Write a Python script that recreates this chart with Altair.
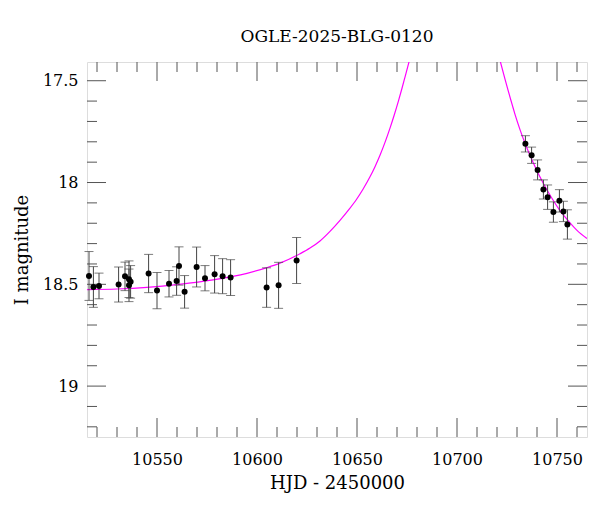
import altair as alt
import pandas as pd

hjd = [10516.0, 10518.2, 10521.0, 10530.8, 10534.0, 10536.0, 10536.8, 10536.0,
       10545.8, 10550.0, 10556.0, 10559.8, 10561.0, 10563.8, 10569.8, 10574.0,
       10578.8, 10582.8, 10586.8, 10604.8, 10610.8, 10619.8,
       10734.2, 10737.3, 10740.3, 10743.2, 10745.3, 10748.2, 10751.2, 10753.2, 10755.2]
mag = [18.459, 18.513, 18.508, 18.501, 18.461, 18.475, 18.488, 18.505,
       18.447, 18.531, 18.497, 18.484, 18.410, 18.537, 18.415, 18.470,
       18.451, 18.460, 18.467, 18.516, 18.505, 18.383,
       17.810, 17.866, 17.938, 18.034, 18.072, 18.145, 18.090, 18.142, 18.206]
err = [0.120, 0.100, 0.063, 0.086, 0.070, 0.090, 0.080, 0.080,
       0.094, 0.089, 0.065, 0.070, 0.094, 0.080, 0.098, 0.062,
       0.092, 0.086, 0.088, 0.097, 0.113, 0.113,
       0.040, 0.040, 0.049, 0.047, 0.060, 0.050, 0.055, 0.050, 0.072]

# ---- model curve ----
model_left_hjd = [10515, 10530, 10545, 10561, 10578, 10595, 10605, 10611.5, 10621.5,
                  10626.5, 10631.5, 10636.5, 10641.5, 10646, 10649.8, 10653, 10656.5,
                  10659, 10661.5, 10664, 10666.5, 10668.5, 10670.7, 10672.5, 10674,
                  10676.2, 10677.5]
model_left_mag = [18.526, 18.523, 18.515, 18.500, 18.478, 18.446, 18.418, 18.396, 18.350,
                  18.322, 18.287, 18.240, 18.186, 18.132, 18.082, 18.033, 17.972,
                  17.922, 17.866, 17.803, 17.733, 17.672, 17.600, 17.537, 17.482,
                  17.400, 17.348]
model_right_hjd = [10720, 10721.5, 10724, 10727.8, 10729, 10731.5, 10734.2, 10738,
                   10743.2, 10747, 10751.5, 10756, 10760, 10765]
model_right_mag = [17.342, 17.400, 17.492, 17.625, 17.665, 17.740, 17.812, 17.900,
                   18.005, 18.070, 18.138, 18.192, 18.235, 18.275]

# ---- tick positions ----
x_major = [10550, 10600, 10650, 10700, 10750]
x_minor = [10520, 10530, 10540, 10560, 10570, 10580, 10590, 10610, 10620, 10630,
           10640, 10660, 10670, 10680, 10690, 10710, 10720, 10730, 10740, 10760]
y_major = [17.5, 18.0, 18.5, 19.0]
y_minor = [17.6, 17.7, 17.8, 17.9, 18.1, 18.2, 18.3, 18.4, 18.6, 18.7, 18.8, 18.9,
           19.1, 19.2]

W, H = 500, 375
FONT = "DejaVu Serif"
TICK_C = "#555555"
MAJ, MIN = 19, 10

obs = pd.DataFrame({"hjd": hjd, "mag": mag, "err": err})
obs["lo"] = obs["mag"] - obs["err"]
obs["hi"] = obs["mag"] + obs["err"]

model = pd.DataFrame({
    "hjd": model_left_hjd + model_right_hjd,
    "mag": model_left_mag + model_right_mag,
    "seg": ["a"] * len(model_left_hjd) + ["b"] * len(model_right_hjd),
})

xs = alt.Scale(domain=[10515, 10765], nice=False, zero=False)
ys = alt.Scale(domain=[17.408, 19.25], reverse=True, nice=False, zero=False)

xaxis = alt.Axis(values=x_major, format="d", ticks=False, domain=False, grid=False,
                 labelFont=FONT, labelFontSize=16, labelColor="black", labelPadding=14,
                 title="HJD - 2450000", titleFont=FONT, titleFontSize=18,
                 titleFontWeight="normal", titleColor="black", titlePadding=7,
                 labelFlush=False)
yaxis = alt.Axis(values=y_major, format="~f", ticks=False, domain=False, grid=False,
                 labelFont=FONT, labelFontSize=16, labelColor="black", labelPadding=9,
                 title="I magnitude", titleFont=FONT, titleFontSize=18,
                 titleFontWeight="normal", titleColor="black", titlePadding=11,
                 labelFlush=False)


def X(field="hjd"):
    return alt.X(f"{field}:Q", scale=xs, axis=xaxis)


def Y(field="mag"):
    return alt.Y(f"{field}:Q", scale=ys, axis=yaxis)


curve = alt.Chart(model).mark_line(color="#ff00ff", strokeWidth=1.2, clip=True,
                                   interpolate="monotone").encode(
    x=X(), y=Y(), detail="seg:N")

bars = alt.Chart(obs).mark_rule(color="#444444", strokeWidth=1).encode(
    x=X(), y=Y("lo"), y2="hi:Q")
cap_lo = alt.Chart(obs).mark_tick(color="#444444", orient="horizontal", size=9,
                                  thickness=1).encode(x=X(), y=Y("lo"))
cap_hi = alt.Chart(obs).mark_tick(color="#444444", orient="horizontal", size=9,
                                  thickness=1).encode(x=X(), y=Y("hi"))
pts = alt.Chart(obs).mark_circle(color="black", size=36, opacity=1).encode(x=X(), y=Y())

xmaj = pd.DataFrame({"hjd": x_major})
xmin = pd.DataFrame({"hjd": x_minor})
ymaj = pd.DataFrame({"mag": y_major})
ymin = pd.DataFrame({"mag": y_minor})

tick_layers = []
for df, ln in [(xmaj, MAJ), (xmin, MIN)]:
    tick_layers.append(alt.Chart(df).mark_rule(color=TICK_C).encode(
        x=X(), y=alt.value(H), y2=alt.value(H - ln)))
    tick_layers.append(alt.Chart(df).mark_rule(color=TICK_C).encode(
        x=X(), y=alt.value(0), y2=alt.value(ln)))
for df, ln in [(ymaj, MAJ), (ymin, MIN)]:
    tick_layers.append(alt.Chart(df).mark_rule(color=TICK_C).encode(
        y=Y(), x=alt.value(0), x2=alt.value(ln)))
    tick_layers.append(alt.Chart(df).mark_rule(color=TICK_C).encode(
        y=Y(), x=alt.value(W), x2=alt.value(W - ln)))

chart = alt.layer(curve, *tick_layers, bars, cap_lo, cap_hi, pts).properties(
    width=W, height=H,
    title=alt.TitleParams("OGLE-2025-BLG-0120", font=FONT, fontSize=17,
                          fontWeight="normal", color="black", anchor="middle",
                          frame="group", offset=16),
    autosize=alt.AutoSizeParams(type="none"),
    padding={"left": 87, "top": 62, "right": 13, "bottom": 75},
).configure_view(stroke="black", strokeWidth=1).configure(background="white")

chart.save("out.html", embed_options={"renderer": "svg", "actions": False})
